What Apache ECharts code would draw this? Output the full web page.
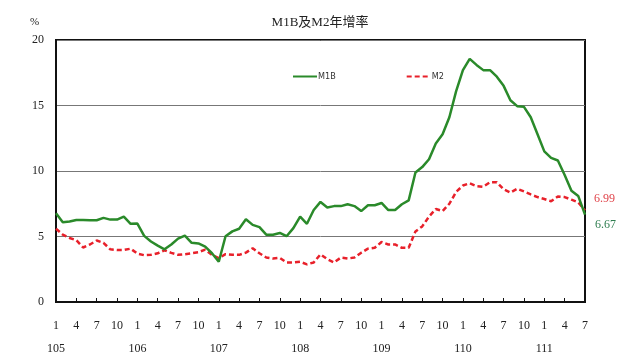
<!DOCTYPE html>
<html>
<head>
<meta charset="utf-8">
<script src="https://cdn.jsdelivr.net/npm/echarts@6/dist/echarts.min.js"></script>
<style>html,body{margin:0;padding:0;background:#fff}#c{width:640px;height:360px}</style>
</head>
<body>
<div id="c"></div>
<script>
// Months 105/1 .. 111/7 (ROC years)
const years = [105, 106, 107, 108, 109, 110, 111];
const monthsInLastYear = 7;
const title = 'M1B及M2年增率';
const yTicks = [0, 5, 10, 15, 20];

const m1b = [
  6.77, 6.09, 6.14, 6.26, 6.26, 6.24, 6.24, 6.42, 6.29, 6.29, 6.52, 5.97,
  5.99, 5.05, 4.62, 4.30, 4.02, 4.39, 4.84, 5.07, 4.52, 4.47, 4.22, 3.72,
  3.07, 5.02, 5.39, 5.59, 6.32, 5.89, 5.72, 5.14, 5.14, 5.27, 5.02, 5.64,
  6.52, 5.97, 7.02, 7.64, 7.22, 7.32, 7.32, 7.46, 7.32, 6.94, 7.39, 7.39,
  7.56, 7.02, 7.02, 7.46, 7.76, 9.89, 10.30, 10.90, 12.10, 12.80, 14.10, 16.10,
  17.70, 18.56, 18.10, 17.70, 17.70, 17.20, 16.50, 15.40, 14.95, 14.90, 14.10, 12.80,
  11.50, 11.00, 10.80, 9.70, 8.50, 8.10, 6.67
];
const m2 = [
  5.59, 5.14, 4.89, 4.72, 4.16, 4.39, 4.69, 4.52, 4.02, 3.97, 3.97, 4.07,
  3.69, 3.57, 3.60, 3.72, 3.95, 3.75, 3.60, 3.65, 3.72, 3.80, 4.00, 3.60,
  3.35, 3.65, 3.60, 3.60, 3.77, 4.10, 3.72, 3.40, 3.32, 3.37, 3.02, 3.02,
  3.07, 2.87, 3.02, 3.64, 3.27, 3.02, 3.39, 3.32, 3.39, 3.76, 4.07, 4.14,
  4.58, 4.39, 4.39, 4.14, 4.14, 5.39, 5.77, 6.52, 7.10, 6.94, 7.50, 8.40,
  8.89, 9.06, 8.85, 8.80, 9.14, 9.14, 8.60, 8.36, 8.64, 8.44, 8.21, 8.01,
  7.86, 7.69, 8.06, 8.01, 7.81, 7.61, 6.99
];

const cats = [];
years.forEach((y, yi) => {
  const n = (yi === years.length - 1) ? monthsInLastYear : 12;
  for (let m = 1; m <= n; m++) cats.push({ y, m });
});
const catNames = cats.map(c => c.y + '/' + c.m);

const serif = '"Liberation Serif", "Times New Roman", "Noto Sans CJK TC", serif';
const GREEN = '#2a8a2a';
const RED = '#e8202a';

const chart = echarts.init(document.getElementById('c'), null, { renderer: 'canvas' });
chart.setOption({
  animation: false,
  backgroundColor: '#fff',
  title: {
    text: title, left: 'center', top: 11,
    textStyle: { fontFamily: serif, fontSize: 13, fontWeight: 'normal', color: '#222' }
  },
  graphic: [{
    type: 'text', left: 30, top: 17,
    style: { text: '%', fontFamily: serif, fontSize: 11, fill: '#222' }
  }],
  legend: {
    left: 287, top: 67, itemGap: 70, itemWidth: 24, itemHeight: 10,
    itemStyle: { opacity: 0 },
    textStyle: { fontFamily: '"Liberation Sans Narrow", "DejaVu Sans Condensed", sans-serif', fontSize: 9, color: '#333', padding: [0, 0, 0, -4] },
    data: ['M1B', 'M2']
  },
  grid: { left: 56, right: 55, top: 40, bottom: 53, show: true, borderColor: '#111', borderWidth: 2 },
  xAxis: {
    type: 'category', data: catNames, boundaryGap: false,
    axisLine: { lineStyle: { color: '#111', width: 2 } },
    axisTick: { inside: true, length: 4, interval: (i) => i % 3 === 0, lineStyle: { color: '#111' } },
    axisLabel: {
      interval: (i) => i % 3 === 0,
      margin: 12,
      fontFamily: serif, fontSize: 12, color: '#222', lineHeight: 23,
      formatter: (v, i) => { const c = cats[i]; return c.m === 1 ? c.m + '\n' + c.y : String(c.m); }
    }
  },
  yAxis: {
    type: 'value', min: yTicks[0], max: yTicks[yTicks.length - 1], interval: 5,
    axisLine: { show: true, lineStyle: { color: '#111', width: 2 } },
    axisTick: { show: false },
    axisLabel: { fontFamily: serif, fontSize: 12, color: '#222', margin: 12 },
    splitLine: { lineStyle: { color: '#777', width: 1 } }
  },
  series: [
    {
      name: 'M1B', type: 'line', data: m1b, symbol: 'none', z: 3,
      lineStyle: { color: GREEN, width: 2.5 }, itemStyle: { color: GREEN },
      endLabel: { show: true, formatter: (p) => p.value.toFixed(2), fontFamily: serif, fontSize: 12, color: '#2e7d4f', offset: [2, 10] }
    },
    {
      name: 'M2', type: 'line', data: m2, symbol: 'none', z: 2,
      lineStyle: { color: RED, width: 2.5, type: [5, 3] }, itemStyle: { color: RED },
      endLabel: { show: true, formatter: (p) => p.value.toFixed(2), fontFamily: serif, fontSize: 12, color: '#e0444a', offset: [1, -12] }
    }
  ]
});
</script>
</body>
</html>
